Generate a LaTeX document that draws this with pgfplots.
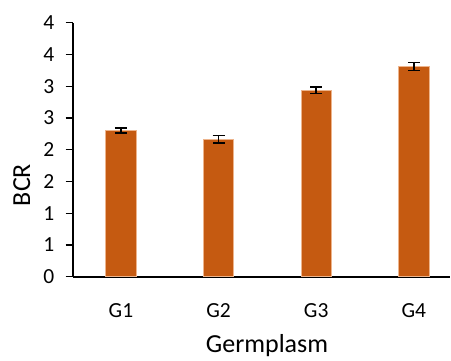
\documentclass[border=0pt]{standalone}
\usepackage{pgfplots}
\pgfplotsset{compat=1.18}
\usepackage{fontspec}
\setmainfont{Carlito}
\definecolor{barc}{HTML}{C55A11}
\definecolor{bare}{HTML}{EDB48C}
\begin{document}
\begin{tikzpicture}
\useasboundingbox (0,0) rectangle (451pt,360pt);
\begin{axis}[
  at={(72.7pt,83.3pt)}, anchor=south west,
  scale only axis, width=377.3pt, height=254pt,
  xmin=-0.494, xmax=3.37, ymin=0, ymax=4,
  axis x line=bottom, axis y line=left,
  axis line style={line width=2.3pt, -},
  ytick={0,0.5,1,1.5,2,2.5,3,3.5,4},
  yticklabels={0,1,1,2,2,3,3,4,4},
  xtick={0,1,2,3}, xticklabels={G1,G2,G3,G4},
  xtick style={draw=none},
  ytick style={line width=1.2pt, black},
  tick align=outside, major tick length=7pt,
  tick label style={font=\fontsize{21.5}{24}\selectfont},
  xticklabel style={yshift=-16pt},
  yticklabel style={xshift=-8pt},
  xlabel={Germplasm}, ylabel={BCR},
  label style={font=\fontsize{26}{30}\selectfont},
  xlabel style={at={(axis description cs:0.515,-0.272)}, anchor=center},
  ylabel style={at={(axis description cs:-0.135,0.361)}, anchor=center},
  ybar, bar width=30.3pt,
  clip=false,
]
\addplot[fill=barc, draw=bare, line width=0.6pt,
  error bars/.cd, y dir=both, y explicit,
  error bar style={line width=1.5pt, black},
  error mark options={rotate=90, mark size=6pt, line width=1.5pt, black}]
  coordinates {(0,2.305) +- (0,0.04) (1,2.165) +- (0,0.06) (2,2.935) +- (0,0.05) (3,3.31) +- (0,0.06)};
\end{axis}
\end{tikzpicture}
\end{document}
